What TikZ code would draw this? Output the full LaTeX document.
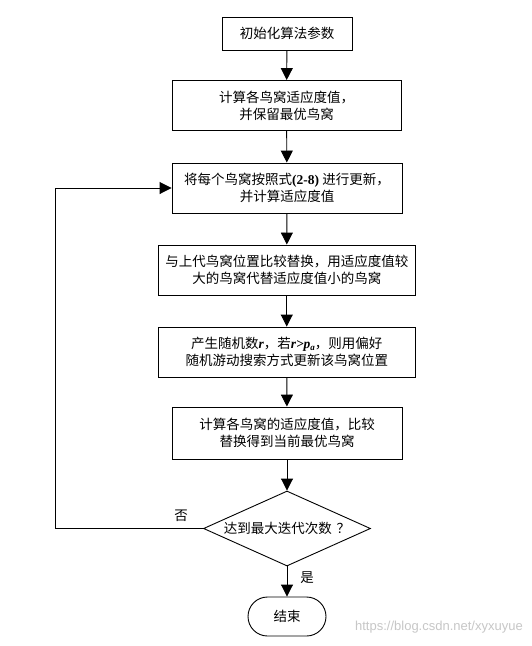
\documentclass[tikz,border=0pt]{standalone}
\usepackage{fontspec}
\setmainfont{Noto Sans CJK SC}
\newfontfamily\lat{Liberation Serif}
\newfontfamily\wm{Liberation Sans}
\usetikzlibrary{shapes.geometric,shapes.misc,arrows.meta}
\begin{document}
\begin{tikzpicture}[x=1pt,y=-1pt,
  every node/.style={font=\fontsize{13.5pt}{17pt}\selectfont, inner sep=0pt},
  procbox/.style={draw, line width=0.9pt, rectangle, align=center},
  decbox/.style={draw, line width=0.9pt, diamond, aspect=2.23, minimum width=167pt, minimum height=75pt, align=center},
  termbox/.style={draw, line width=0.9pt, rounded rectangle, minimum width=78pt, minimum height=39pt},
  flow/.style={line width=0.9pt, -{Triangle[length=12pt,width=12pt]}},
  lbl/.style={font=\fontsize{13.5pt}{17pt}\selectfont}
]
\useasboundingbox (0,0) rectangle (531,646);
\fill[white] (0,0) rectangle (531,646);

\node[procbox, minimum width=130pt, minimum height=33pt] (b1) at (287,33.5) {初始化算法参数};
\node[procbox, minimum width=229pt, minimum height=50pt] (b2) at (286.5,105.5) {计算各鸟窝适应度值，\\并保留最优鸟窝};
\node[procbox, minimum width=230pt, minimum height=50pt] (b3) at (287,188) {将每个鸟窝按照式{\lat\bfseries (2-8)} 进行更新，\\并计算适应度值};
\node[procbox, minimum width=257pt, minimum height=50pt] (b4) at (286.75,270) {与上代鸟窝位置比较替换，用适应度值较\\大的鸟窝代替适应度值小的鸟窝};
\node[procbox, minimum width=257pt, minimum height=50pt] (b5) at (286.75,352) {产生随机数{\lat\bfseries\itshape r}，若{\lat\bfseries\itshape r>p\raisebox{-0.35ex}{\fontsize{9pt}{9pt}\selectfont a}}，则用偏好\\随机游动搜索方式更新该鸟窝位置};
\node[procbox, minimum width=230pt, minimum height=52pt] (b6) at (287,433) {计算各鸟窝的适应度值，比较\\替换得到当前最优鸟窝};
\node[decbox] (d) at (287,528.5) {达到最大迭代次数\hspace{5pt}？};
\node[termbox] (e) at (287,616.5) {结束};

\coordinate (lp) at (55.7,528.5);

\draw[flow] (b1) -- (b2);
\draw[flow] (b2) -- (b3);
\draw[flow] (b3) -- (b4);
\draw[flow] (b4) -- (b5);
\draw[flow] (b5) -- (b6);
\draw[flow] (b6) -- (d);
\draw[flow] (d) -- (e);
\draw[flow] (d.west) -- (lp) |- (b3.west);

\node[lbl] (no) at (181,516) {否};
\node[lbl] (yes) at (307,578) {是};
\node[font=\wm\fontsize{13pt}{13pt}\selectfont, text=black!22, anchor=east] (wmk) at (523,627) {https://blog.csdn.net/xyxuyue};
\end{tikzpicture}
\end{document}
